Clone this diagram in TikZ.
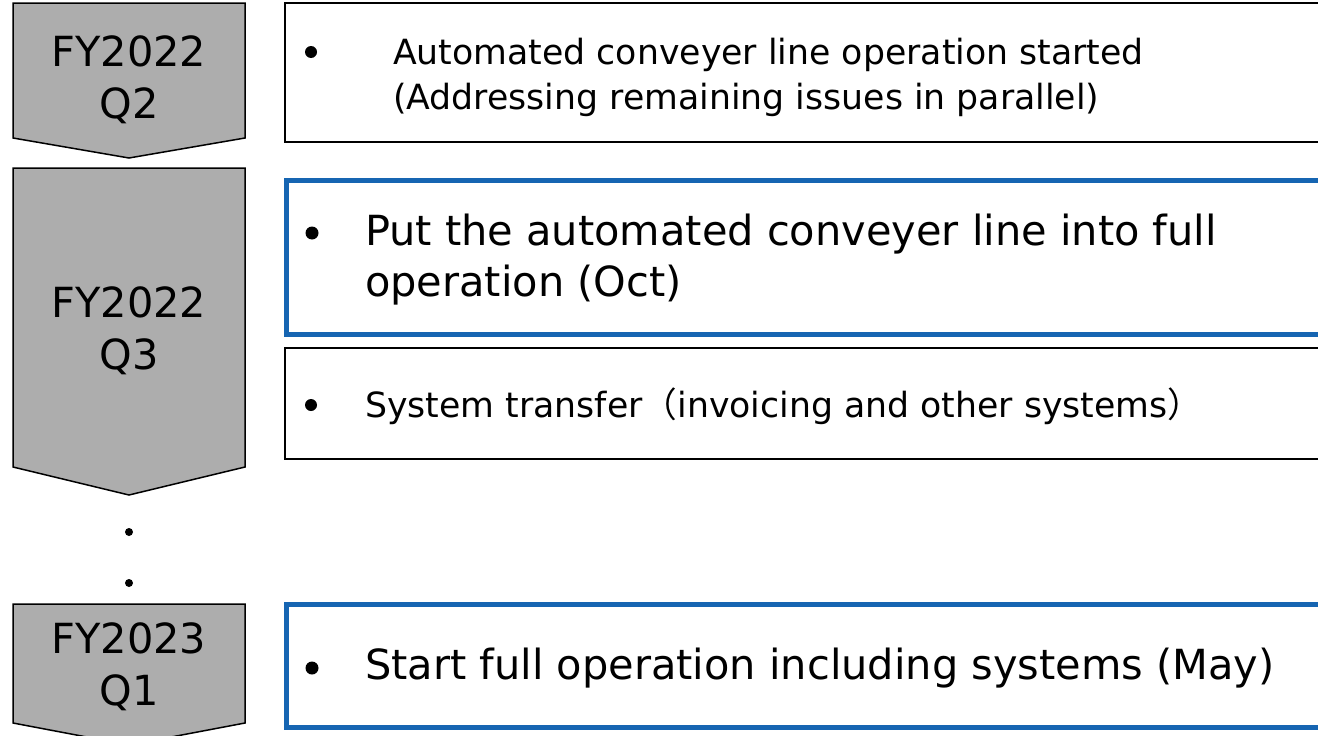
\documentclass[tikz,border=0pt]{standalone}
\usepackage{fontspec}
\setmainfont{DejaVu Sans}
\newfontfamily\cjk{Noto Sans CJK JP}
\usetikzlibrary{positioning}
\definecolor{chevgray}{RGB}{173,173,173}
\definecolor{hlblue}{RGB}{22,101,178}

\begin{document}
\begin{tikzpicture}[x=1pt,y=-1pt,
  chev/.style={draw=black, fill=chevgray, line width=1.5pt, line join=miter},
  plainbox/.style={draw=black, line width=1.5pt},
  bluebox/.style={draw=hlblue, line width=5pt},
  quarter/.style={align=center, inner sep=0pt, font=\fontsize{41.5}{52}\selectfont},
  bigtext/.style={anchor=west, align=left, inner sep=0pt, font=\fontsize{41.5}{51}\selectfont},
  smalltext/.style={anchor=west, align=left, inner sep=0pt, font=\fontsize{34.7}{45}\selectfont},
  bigbullet/.style={circle, fill=black, inner sep=0pt, minimum size=13pt},
  smallbullet/.style={circle, fill=black, inner sep=0pt, minimum size=12pt},
  dot/.style={circle, fill=black, inner sep=0pt, minimum size=8pt}
]
\useasboundingbox (0,0) rectangle (1318,736);

% quarter chevrons
\draw[chev] (13,3) -- (245,3) -- (245,138) -- (129,158) -- (13,138) -- cycle;
\draw[chev] (13,168) -- (245,168) -- (245,467) -- (129,495) -- (13,467) -- cycle;
\draw[chev] (13,604) -- (245,604) -- (245,723) -- (129,745) -- (13,723) -- cycle;

\node[quarter] (q1) at (129,80) {FY2022\\Q2};
\node[quarter] (q2) at (129,331) {FY2022\\Q3};
\node[quarter] (q3) at (129,667) {FY2023\\Q1};

\node[dot] (d1) at (129,532) {};
\node[dot] (d2) at (129,583) {};

% boxes
\draw[plainbox] (285,3) rectangle (1340,142);
\draw[bluebox] (286,180.5) rectangle (1340,334);
\draw[plainbox] (285,348) rectangle (1340,459);
\draw[bluebox] (286,604) rectangle (1340,727);

\node[smallbullet] (b1) at (311,52) {};
\node[smalltext] (t1) at (393,77)
  {Automated conveyer line operation started\\(Addressing remaining issues in parallel)};

\node[bigbullet] (b2) at (312,233) {};
\node[bigtext] (t2) at (365,260)
  {Put the automated conveyer line into full\\operation (Oct)};

\node[smallbullet] (b3) at (311,405) {};
\node[smalltext] (t3) at (365,406)
  {System transfer{\cjk （}invoicing and other systems{\cjk ）}};

\node[bigbullet] (b4) at (312,668) {};
\node[bigtext] (t4) at (365,668) {Start full operation including systems (May)};

\end{tikzpicture}
\end{document}
